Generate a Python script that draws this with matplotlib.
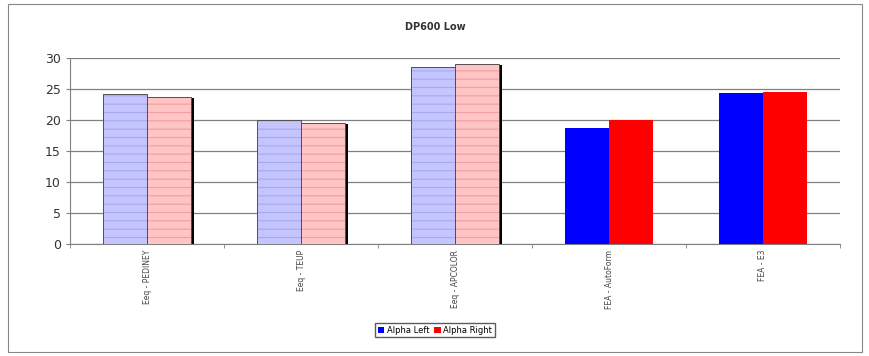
import matplotlib
matplotlib.use("Agg")
import matplotlib.pyplot as plt
import numpy as np
from matplotlib.patches import Rectangle

categories = ["Eeq - PEDINEY", "Eeq - TEUP", "Eeq - APCOLOR", "FEA - AutoForm", "FEA - E3"]
alpha_left = [24.2, 20.0, 28.6, 18.8, 24.4]
alpha_right = [23.7, 19.6, 29.0, 20.0, 24.6]
measured = [True, True, True, False, False]  # light hatched vs solid

fig = plt.figure(figsize=(8.7, 3.56), dpi=100)
fig.patch.set_facecolor("white")
fig.add_artist(Rectangle((0.009, 0.012), 0.982, 0.978, transform=fig.transFigure,
                         fill=False, edgecolor="#888888", linewidth=0.8))

ax = fig.add_axes([0.0805, 0.3146, 0.885, 0.522])
x = np.arange(len(categories))
w = 0.285

for i in x:
    if measured[i]:
        specs = [(i - w / 2, alpha_left[i], "#C4C4FF", "#A8A8F0"),
                 (i + w / 2, alpha_right[i], "#FFC4C4", "#F0A0A0")]
        # shadow
        ax.bar(i + w / 2 + 0.018, alpha_right[i] - 0.15, w, color="black", linewidth=0, zorder=2, bottom=0)
        for xc, v, fc, hc in specs:
            plt.rcParams["hatch.color"] = hc
            plt.rcParams["hatch.linewidth"] = 0.8
            ax.bar(xc, v, w, color=fc, edgecolor=hc, hatch="--", linewidth=0, zorder=3)
            ax.bar(xc, v, w, fill=False, edgecolor="#505050", linewidth=0.7, zorder=4)
    else:
        ax.bar(i - w / 2, alpha_left[i], w, color="#0000FF", linewidth=0, zorder=3)
        ax.bar(i + w / 2, alpha_right[i], w, color="#FF0000", linewidth=0, zorder=3)

ax.set_xlim(-0.5, len(categories) - 0.5)
ax.set_ylim(0, 30)
ax.set_yticks([0, 5, 10, 15, 20, 25, 30])
ax.yaxis.grid(True, color="#808080", linewidth=0.9, zorder=0)
ax.set_axisbelow(True)
for s in ["top", "right"]:
    ax.spines[s].set_visible(False)
ax.spines["left"].set_color("#808080")
ax.spines["bottom"].set_color("#808080")
ax.tick_params(axis="y", labelsize=9, colors="#333333", length=3, color="#808080")
ax.set_xticks(x)
ax.set_xticklabels(categories, rotation=90, fontsize=5.5, color="#444444")
ax.set_xticks(np.arange(-0.5, len(categories)), minor=True)
ax.tick_params(axis="x", which="major", length=0, pad=4)
ax.tick_params(axis="x", which="minor", length=3, color="#808080")

fig.text(0.5, 0.925, "DP600 Low", ha="center", va="center", fontsize=7, fontweight="bold", color="#333333")

from matplotlib.patches import Patch
handles = [Patch(facecolor="#0000FF", label="Alpha Left"), Patch(facecolor="#FF0000", label="Alpha Right")]
fig.legend(handles=handles, loc="center", bbox_to_anchor=(0.5, 0.072), ncol=2, fontsize=6,
           frameon=True, fancybox=False, edgecolor="#333333", handlelength=0.8, handleheight=0.8,
           handletextpad=0.3, columnspacing=0.6, borderpad=0.3)

fig.savefig("out.png", dpi=100, facecolor="white")
